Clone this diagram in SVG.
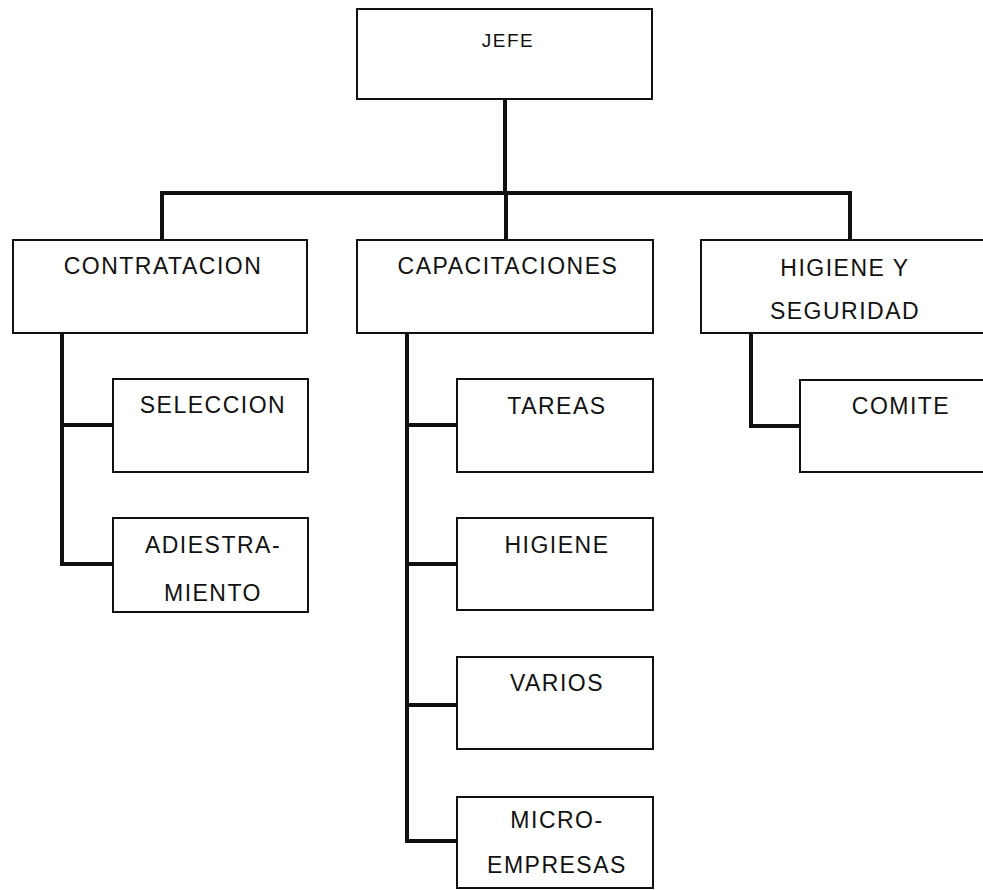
<svg xmlns="http://www.w3.org/2000/svg" width="983" height="890" viewBox="0 0 983 890">
  <style>
    .box { fill: #ffffff; stroke: #111111; stroke-width: 2; }
    .lbl { font-family: "Liberation Sans", Arial, sans-serif; font-size: 23px; letter-spacing: 1.5px; fill: #111111; text-anchor: middle; }
    .small { font-size: 19px; letter-spacing: 1.5px; }
    .conn { fill: none; stroke: #111111; stroke-width: 4; stroke-linecap: square; stroke-linejoin: miter; }
  </style>
  <rect x="0" y="0" width="983" height="890" fill="#ffffff"/>

  <!-- connectors -->
  <g id="connectors">
    <path class="conn" d="M505 99 V193"/>
    <path class="conn" d="M162 240 V193 H850 V240"/>
    <path class="conn" d="M506 193 V240"/>
    <path class="conn" d="M62 333 V564 H113"/>
    <path class="conn" d="M62 425 H113"/>
    <path class="conn" d="M407 333 V841 H457"/>
    <path class="conn" d="M407 425 H457"/>
    <path class="conn" d="M407 564 H457"/>
    <path class="conn" d="M407 705 H457"/>
    <path class="conn" d="M751 333 V426 H800"/>
  </g>

  <g id="jefe">
    <rect class="box" x="357" y="9" width="295" height="90"/>
    <text class="lbl small" x="508" y="47">JEFE</text>
  </g>

  <g id="contratacion">
    <rect class="box" x="13" y="240" width="294" height="93"/>
    <text class="lbl" x="163" y="274">CONTRATACION</text>
  </g>

  <g id="capacitaciones">
    <rect class="box" x="357" y="240" width="296" height="93"/>
    <text class="lbl" x="508" y="274">CAPACITACIONES</text>
  </g>

  <g id="higiene-seguridad">
    <rect class="box" x="701" y="240" width="292" height="93"/>
    <text class="lbl" x="845" y="276">HIGIENE Y</text>
    <text class="lbl" x="845" y="319">SEGURIDAD</text>
  </g>

  <g id="seleccion">
    <rect class="box" x="113" y="379" width="195" height="93"/>
    <text class="lbl" x="213" y="413">SELECCION</text>
  </g>

  <g id="adiestramiento">
    <rect class="box" x="113" y="518" width="195" height="94"/>
    <text class="lbl" x="213" y="553">ADIESTRA-</text>
    <text class="lbl" x="213" y="601">MIENTO</text>
  </g>

  <g id="tareas">
    <rect class="box" x="457" y="379" width="196" height="93"/>
    <text class="lbl" x="557" y="414">TAREAS</text>
  </g>

  <g id="higiene">
    <rect class="box" x="457" y="518" width="196" height="92"/>
    <text class="lbl" x="557" y="553">HIGIENE</text>
  </g>

  <g id="varios">
    <rect class="box" x="457" y="657" width="196" height="92"/>
    <text class="lbl" x="557" y="691">VARIOS</text>
  </g>

  <g id="microempresas">
    <rect class="box" x="457" y="797" width="196" height="91"/>
    <text class="lbl" x="557" y="828">MICRO-</text>
    <text class="lbl" x="557" y="873">EMPRESAS</text>
  </g>

  <g id="comite">
    <rect class="box" x="800" y="380" width="200" height="92"/>
    <text class="lbl" x="901" y="414">COMITE</text>
  </g>
</svg>
